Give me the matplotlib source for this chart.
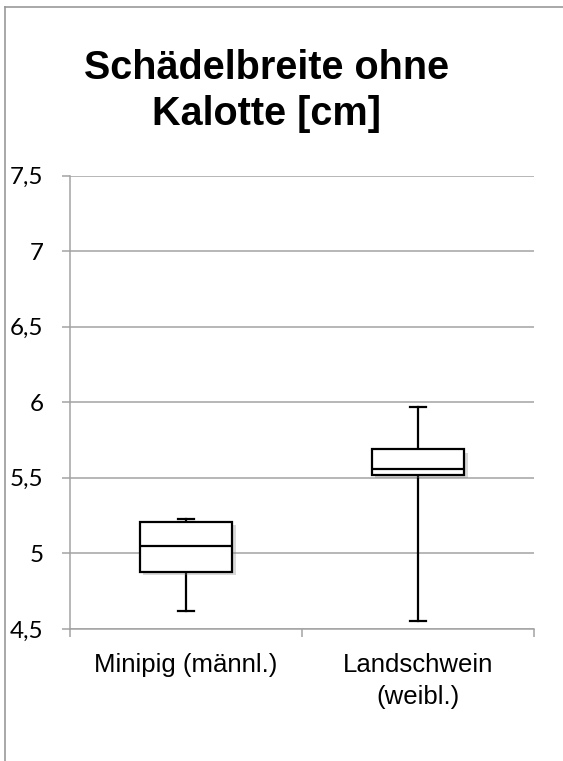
import matplotlib
matplotlib.use("Agg")
import matplotlib.pyplot as plt
import matplotlib.patheffects as pe
from matplotlib.lines import Line2D

# Werte
gruppen = ["Minipig (männl.)", "Landschwein\n(weibl.)"]
minimum = [4.62, 4.55]
q1 = [4.88, 5.52]
median = [5.05, 5.56]
q3 = [5.21, 5.69]
maximum = [5.23, 5.97]

yticks = [4.5, 5, 5.5, 6, 6.5, 7, 7.5]
ytick_labels = ["4,5", "5", "5,5", "6", "6,5", "7", "7,5"]

W, H = 563, 761
fig = plt.figure(figsize=(W / 100, H / 100), dpi=100)
ax = fig.add_axes([70 / W, 1 - 629 / H, 464 / W, (629 - 175.5) / H])

grau = "#a3a3a3"
stats = []
for i in range(len(gruppen)):
    stats.append(dict(whislo=minimum[i], q1=q1[i], med=median[i],
                      q3=q3[i], whishi=maximum[i], fliers=[]))

schatten = [pe.SimplePatchShadow(offset=(2.5, -2.5), alpha=0.3, rho=0.5), pe.Normal()]
bp = ax.bxp(stats, positions=[1, 2], widths=0.4, capwidths=0.065,
            patch_artist=True,
            boxprops=dict(facecolor="white", edgecolor="black", linewidth=1.6),
            medianprops=dict(color="black", linewidth=1.6),
            whiskerprops=dict(color="black", linewidth=1.6),
            capprops=dict(color="black", linewidth=1.6))
for b in bp["boxes"]:
    b.set_path_effects(schatten)
    b.set_zorder(3)
for k in ["medians", "whiskers", "caps"]:
    for l in bp[k]:
        l.set_zorder(2 if k != "medians" else 4)

ax.set_xlim(0.5, 2.5)
ax.set_ylim(4.5, 7.5)
ax.set_yticks(yticks)
ax.set_yticklabels(ytick_labels, fontsize=17.5, family="Lato")
ax.yaxis.grid(True, color=grau, linewidth=1.1)
ax.set_axisbelow(True)

ax.set_xticks([0.5, 1.5, 2.5])
ax.set_xticklabels([])
ax.set_xticks([1, 2], minor=True)
ax.set_xticklabels(gruppen, minor=True, fontsize=18.5, family="Liberation Sans",
                   linespacing=1.45)
ax.tick_params(axis="x", which="minor", length=0, pad=17)
ax.tick_params(axis="x", which="major", length=6, color=grau, width=1.1)
ax.tick_params(axis="y", length=6, color=grau, width=1.1, pad=13)

for s in ["top", "right"]:
    ax.spines[s].set_visible(False)
for s in ["left", "bottom"]:
    ax.spines[s].set_color(grau)
    ax.spines[s].set_linewidth(1.1)

fig.text(267 / W, 1 - 125 / H, "Schädelbreite ohne\nKalotte [cm]", ha="center",
         va="baseline", fontsize=28.5, fontweight="bold", family="Liberation Sans",
         linespacing=1.27)

# Rahmen oben und links
fig.add_artist(Line2D([5 / W, 5 / W], [0, 1 - 7 / H], transform=fig.transFigure,
                      color="#999999", linewidth=1.2))
fig.add_artist(Line2D([5 / W, 1], [1 - 7 / H, 1 - 7 / H], transform=fig.transFigure,
                      color="#999999", linewidth=1.2))

fig.savefig("out.png", dpi=100)
